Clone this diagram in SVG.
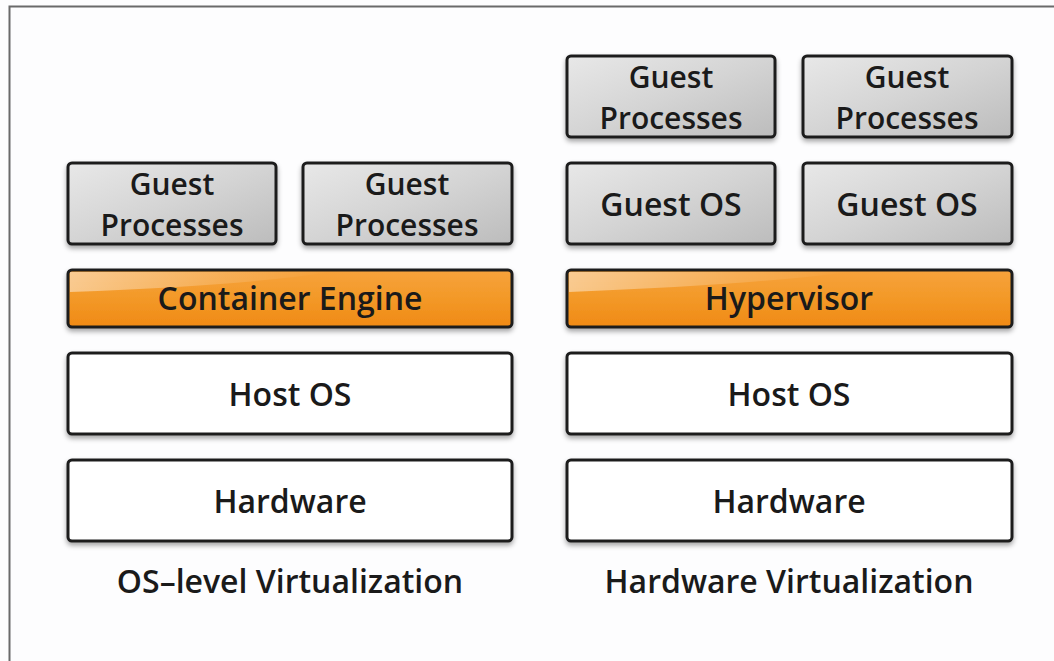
<svg xmlns="http://www.w3.org/2000/svg" width="1054" height="661" viewBox="0 0 1054 661">
<defs>
<linearGradient id="gray" x1="0" y1="0" x2="1" y2="1">
<stop offset="0" stop-color="#e8e8e8"/>
<stop offset="0.5" stop-color="#d4d4d4"/>
<stop offset="1" stop-color="#bcbcbc"/>
</linearGradient>
<linearGradient id="orange" x1="0" y1="0" x2="0" y2="1">
<stop offset="0" stop-color="#f6a23c"/>
<stop offset="0.45" stop-color="#f39a2a"/>
<stop offset="1" stop-color="#f08a14"/>
</linearGradient>
<linearGradient id="gloss" x1="0" y1="0" x2="1" y2="0">
<stop offset="0" stop-color="#ffffff" stop-opacity="0.45"/>
<stop offset="0.6" stop-color="#ffffff" stop-opacity="0.15"/>
<stop offset="1" stop-color="#ffffff" stop-opacity="0"/>
</linearGradient>
<filter id="sh" x="-5%" y="-10%" width="110%" height="130%">
<feDropShadow dx="0" dy="3" stdDeviation="2.5" flood-color="#000" flood-opacity="0.35"/>
</filter>
</defs>
<style>
.box{stroke:#1e1e1e;stroke-width:3;filter:url(#sh)}
.g{fill:url(#gray)}
.o{fill:url(#orange)}
.w{fill:#ffffff}
.t{font-family:"Open Sans","Liberation Sans",sans-serif;font-weight:600;font-size:32px;fill:#1a1a1a;text-anchor:middle}
.t2{font-family:"Open Sans","Liberation Sans",sans-serif;font-weight:600;font-size:30px;fill:#1a1a1a;text-anchor:middle}
.lbl{font-family:"Open Sans","Liberation Sans",sans-serif;font-weight:600;font-size:32px;fill:#1a1a1a;text-anchor:middle}
</style>
<rect x="0" y="0" width="1054" height="661" fill="#fdfdfe"/>
<path d="M9.5 661 V6.5 H1054" fill="none" stroke="#6a6a6a" stroke-width="2"/>
<g id="connectors"/>
<g id="os-gp1"><rect class="box g" x="68" y="163" width="208" height="81" rx="4"/><text class="t2" x="172" y="195">Guest</text><text class="t2" x="172" y="236">Processes</text></g>
<g id="os-gp2"><rect class="box g" x="303" y="163" width="209" height="81" rx="4"/><text class="t2" x="407" y="195">Guest</text><text class="t2" x="407" y="236">Processes</text></g>
<g id="container-engine"><rect class="box o" x="68" y="270" width="444" height="57" rx="4"/><path d="M70 272 H330 Q250 285 70 292 Z" fill="url(#gloss)"/><text class="t" x="290" y="310">Container Engine</text></g>
<g id="os-host"><rect class="box w" x="68" y="353" width="444" height="81" rx="4"/><text class="t" x="290" y="406">Host OS</text></g>
<g id="os-hw"><rect class="box w" x="68" y="460" width="444" height="81" rx="4"/><text class="t" x="290" y="513">Hardware</text></g>
<text class="lbl" x="290" y="593">OS–level Virtualization</text>
<g id="hw-gp1"><rect class="box g" x="567" y="56" width="208" height="81" rx="4"/><text class="t2" x="671" y="88">Guest</text><text class="t2" x="671" y="129">Processes</text></g>
<g id="hw-gp2"><rect class="box g" x="803" y="56" width="209" height="81" rx="4"/><text class="t2" x="907" y="88">Guest</text><text class="t2" x="907" y="129">Processes</text></g>
<g id="hw-gos1"><rect class="box g" x="567" y="163" width="208" height="81" rx="4"/><text class="t" x="671" y="216">Guest OS</text></g>
<g id="hw-gos2"><rect class="box g" x="803" y="163" width="209" height="81" rx="4"/><text class="t" x="907" y="216">Guest OS</text></g>
<g id="hypervisor"><rect class="box o" x="567" y="270" width="445" height="57" rx="4"/><path d="M569 272 H850 Q750 285 569 292 Z" fill="url(#gloss)"/><text class="t" x="789" y="310">Hypervisor</text></g>
<g id="hw-host"><rect class="box w" x="567" y="353" width="445" height="81" rx="4"/><text class="t" x="789" y="406">Host OS</text></g>
<g id="hw-hw"><rect class="box w" x="567" y="460" width="445" height="81" rx="4"/><text class="t" x="789" y="513">Hardware</text></g>
<text class="lbl" x="789" y="593">Hardware Virtualization</text>
</svg>
